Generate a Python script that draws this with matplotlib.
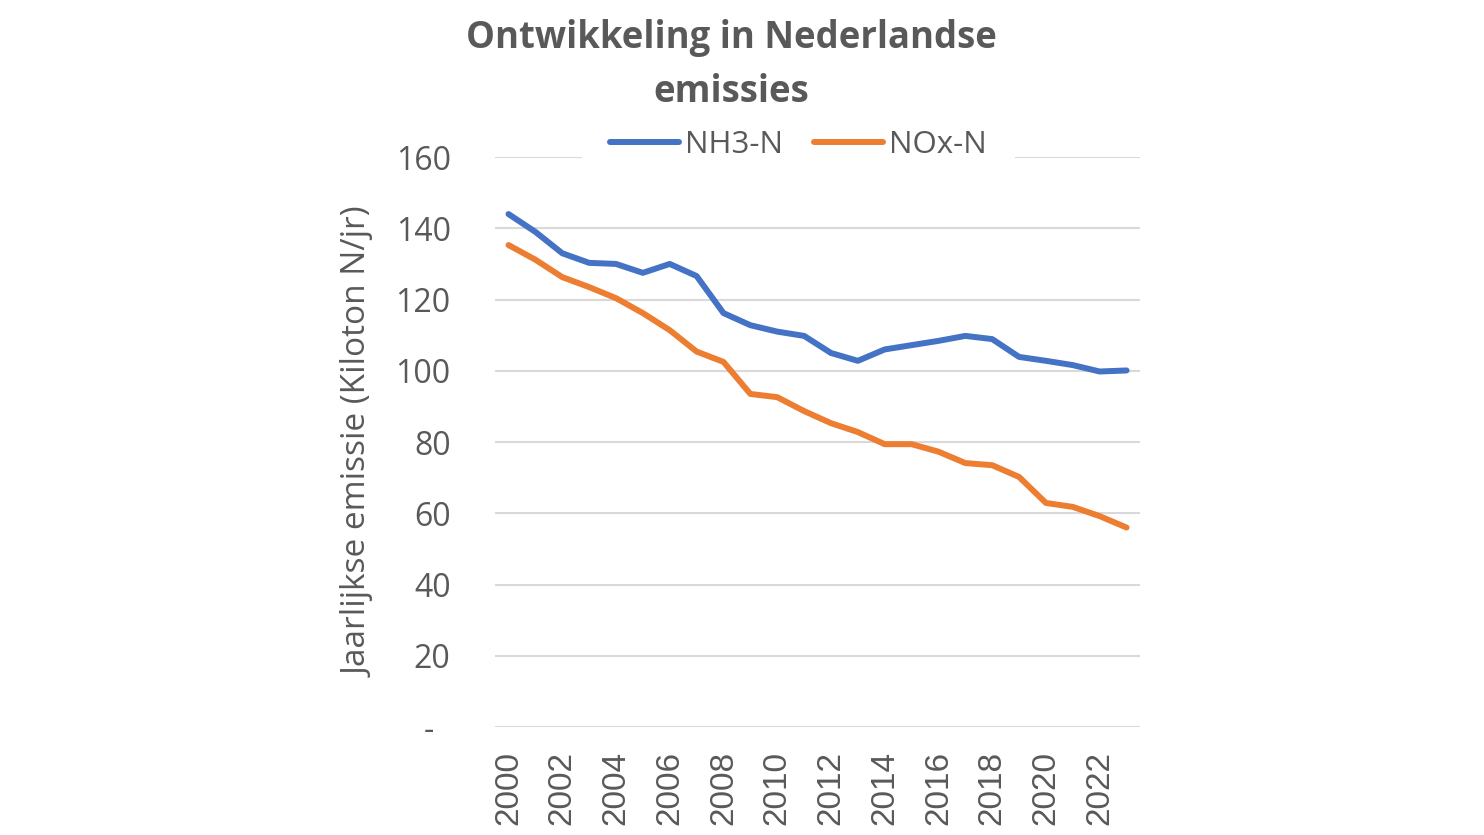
import matplotlib.pyplot as plt

jaren = list(range(2000, 2024))
nh3_n = [144.0, 139.0, 133.0, 130.3, 130.0, 127.5, 130.0, 126.6, 116.2, 112.8, 111.0, 109.8,
         105.0, 102.8, 106.0, 107.2, 108.4, 109.8, 108.9, 103.9, 102.8, 101.6, 99.8, 100.1]
nox_n = [135.3, 131.2, 126.3, 123.5, 120.4, 116.2, 111.4, 105.4, 102.5, 93.5, 92.6, 88.7,
         85.3, 82.8, 79.4, 79.4, 77.3, 74.1, 73.5, 70.2, 62.9, 61.8, 59.2, 56.0]
y_ticks = [0, 20, 40, 60, 80, 100, 120, 140, 160]
y_labels = ['-  ', '20', '40', '60', '80', '100', '120', '140', '160']
x_ticks = list(range(2000, 2023, 2))

grijs = '#595959'
plt.rcParams['font.family'] = ['Open Sans', 'DejaVu Sans']

fig = plt.figure(figsize=(14.84, 8.35), dpi=100)
ax = fig.add_axes([0.3336, 0.1293, 0.4346, 0.6826])

ax.plot(jaren, nh3_n, color='#4472C4', lw=4.3, label='NH3-N', solid_capstyle='round')
ax.plot(jaren, nox_n, color='#ED7D31', lw=4.3, label='NOx-N', solid_capstyle='round')

ax.set_xlim(1999.5, 2023.5)
ax.set_ylim(0, 160)
ax.set_yticks(y_ticks)
ax.set_yticklabels(y_labels, fontsize=23)
ax.set_xticks(x_ticks)
ax.set_xticklabels([str(j) for j in x_ticks], rotation=90, fontsize=24,
                   family=['Liberation Sans', 'DejaVu Sans'])
ax.tick_params(length=0, colors=grijs)
ax.tick_params(axis='y', pad=32)
ax.tick_params(axis='x', pad=17)
ax.grid(axis='y', color='#d9d9d9', lw=1.5)
ax.set_axisbelow(True)
for s in ax.spines.values():
    s.set_visible(False)

ax.set_ylabel('Jaarlijkse emissie (Kiloton N/jr)', fontsize=24, color=grijs, labelpad=14)

fig.text(0.493, 0.955, 'Ontwikkeling in Nederlandse', ha='center', va='center',
         fontsize=26.3, fontweight='bold', color=grijs)
fig.text(0.493, 0.89, 'emissies', ha='center', va='center',
         fontsize=26.3, fontweight='bold', color=grijs)

leg = fig.legend(loc='center', bbox_to_anchor=(0.538, 0.826), ncol=2, fontsize=22.5,
                 frameon=True, facecolor='white', edgecolor='none', framealpha=1,
                 handlelength=2.2, handletextpad=0.2, columnspacing=1.0,
                 borderpad=0.9, fancybox=False)
for t in leg.get_texts():
    t.set_color(grijs)
for h in leg.get_lines():
    h.set_linewidth(4.3)

fig.savefig('out.png', dpi=100, facecolor='white')
